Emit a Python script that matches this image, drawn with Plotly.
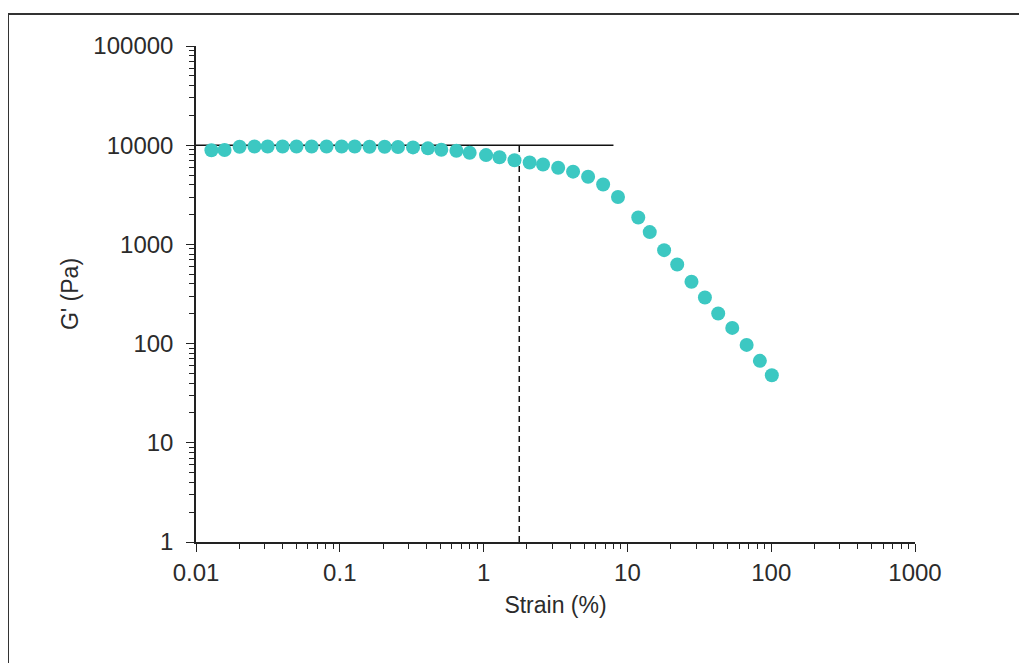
import plotly.graph_objects as go

# ---- data ----
strain = [0.0128, 0.0158, 0.0201, 0.0255, 0.0315, 0.0400, 0.0500, 0.0637, 0.0809, 0.103,
          0.127, 0.161, 0.205, 0.254, 0.323, 0.410, 0.508, 0.647, 0.800, 1.04,
          1.29, 1.64, 2.09, 2.59, 3.30, 4.19, 5.33, 6.78, 8.6, 11.9,
          14.3, 18.0, 22.2, 27.9, 34.6, 42.8, 53.6, 67.5, 83.4, 101]
g_prime = [8900, 8950, 9650, 9700, 9700, 9700, 9700, 9700, 9700, 9700,
           9700, 9650, 9650, 9600, 9500, 9300, 9000, 8800, 8400, 7950,
           7550, 7060, 6700, 6390, 5930, 5410, 4800, 4020, 3010, 1870,
           1330, 875, 628, 420, 292, 201, 144, 97, 67, 48]

plateau_x = [0.01, 8.0]
plateau_y = [10000, 10000]
yield_x = [1.77, 1.77]
yield_y = [1, 10000]

x_tickvals = [0.01, 0.1, 1, 10, 100, 1000]
x_ticktext = ["0.01", "0.1", "1", "10", "100", "1000"]
y_tickvals = [1, 10, 100, 1000, 10000, 100000]
y_ticktext = ["1", "10", "100", "1000", "10000", "100000"]

x_minor = [m * d for d in [0.01, 0.1, 1, 10, 100] for m in range(2, 10)]
y_minor = [m * d for d in [1, 10, 100, 1000, 10000] for m in range(2, 10)]

# ---- figure ----
# the page body has an 8px margin, so the figure is placed 8px in from the window corner
OFF = 8
W, H = 1027 - OFF, 663 - OFF
ML, MR, MT, MB = 196 - OFF, 112, 46 - OFF, 121
FONT = "Liberation Sans, Arial, sans-serif"
TXT = "#2b2b2b"
DOT = "#3CC8C2"

fig = go.Figure()
fig.add_trace(go.Scatter(x=plateau_x, y=plateau_y, mode="lines",
                         line=dict(color="#111111", width=1.5), hoverinfo="skip",
                         showlegend=False))
fig.add_trace(go.Scatter(x=yield_x, y=yield_y, mode="lines",
                         line=dict(color="#111111", width=1.5, dash="6px,4px"),
                         hoverinfo="skip", showlegend=False))
fig.add_trace(go.Scatter(x=strain, y=g_prime, mode="markers",
                         marker=dict(size=14, color=DOT, line=dict(width=0)),
                         showlegend=False))

pw = W - ML - MR
ph = H - MT - MB
def px_x(p):  # window pixel -> paper
    return (p - OFF - ML) / pw
def px_y(p):
    return (H - MB - (p - OFF)) / ph

# outer frame (top and left edges visible)
fig.add_shape(type="line", xref="paper", yref="paper",
              x0=px_x(8), x1=px_x(1040), y0=px_y(14), y1=px_y(14),
              line=dict(color="#333333", width=2))
fig.add_shape(type="line", xref="paper", yref="paper",
              x0=px_x(8), x1=px_x(8), y0=px_y(14), y1=px_y(680),
              line=dict(color="#333333", width=2))

axis_common = dict(
    showgrid=False, zeroline=False, showline=True, linecolor="#222222", linewidth=1.5,
    ticks="outside", ticklen=8, tickwidth=1.2, tickcolor="#222222",
    tickfont=dict(family=FONT, size=24, color=TXT),
)

fig.update_xaxes(type="log", range=[-2, 3], tickmode="array",
                 tickvals=x_tickvals, ticktext=x_ticktext,
                 minor=dict(tickmode="array", tickvals=x_minor, ticks="outside",
                            ticklen=5, tickwidth=1.2, tickcolor="#222222"),
                 title=dict(text="Strain (%)", font=dict(family=FONT, size=23, color=TXT),
                            standoff=12),
                 ticklabelstandoff=0,
                 **axis_common)
fig.update_yaxes(type="log", range=[0, 5], tickmode="array",
                 tickvals=y_tickvals, ticktext=y_ticktext,
                 minor=dict(tickmode="array", tickvals=y_minor, ticks="outside",
                            ticklen=5, tickwidth=1.2, tickcolor="#222222"),
                 title=dict(text="G' (Pa)", font=dict(family=FONT, size=23, color=TXT),
                            standoff=8),
                 ticklabelstandoff=8,
                 **axis_common)

fig.update_layout(width=W, height=H, autosize=False,
                  margin=dict(l=ML, r=MR, t=MT, b=MB, pad=0),
                  paper_bgcolor="white", plot_bgcolor="white",
                  font=dict(family=FONT, size=23, color=TXT))

fig.write_html("out.html")
